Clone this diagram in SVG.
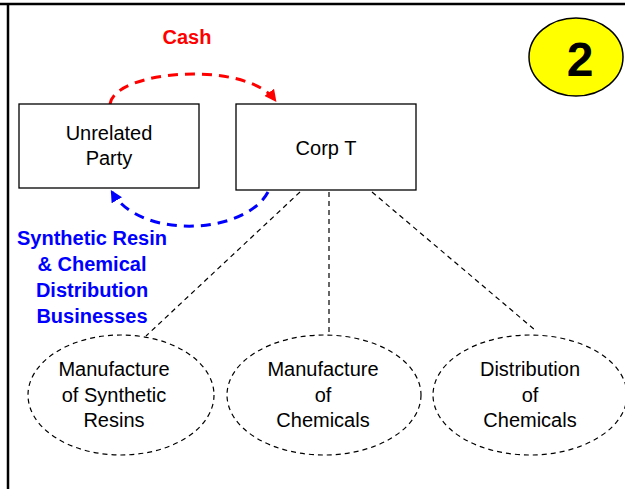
<svg xmlns="http://www.w3.org/2000/svg" width="625" height="489" viewBox="0 0 625 489">
<defs>
<style>
.box{fill:#fff;stroke:#000;stroke-width:1.3}
.t{font-family:"Liberation Sans",Arial,sans-serif;font-size:20px;fill:#000;text-anchor:middle}
.b{font-family:"Liberation Sans",Arial,sans-serif;font-size:20px;font-weight:bold;text-anchor:middle}
.ell{fill:none;stroke:#000;stroke-width:1.2;stroke-dasharray:5,4}
.link{fill:none;stroke:#000;stroke-width:1.2;stroke-dasharray:5,4}
</style>
<marker id="ar" viewBox="0 0 10 10" refX="8" refY="5" markerWidth="4" markerHeight="4" orient="auto"><path d="M0,0 L10,5 L0,10 z" fill="#f00"/></marker>
<marker id="ab" viewBox="0 0 10 10" refX="8" refY="5" markerWidth="4" markerHeight="4" orient="auto"><path d="M0,0 L10,5 L0,10 z" fill="#00f"/></marker>
</defs>
<rect width="625" height="489" fill="#fff"/>
<line x1="0" y1="4" x2="625" y2="4" stroke="#000" stroke-width="2.5"/>
<line x1="8" y1="4" x2="8" y2="489" stroke="#000" stroke-width="2.5"/>
<g id="badge">
<ellipse cx="576" cy="57" rx="47" ry="39" fill="#ff0" stroke="#000" stroke-width="1.5"/>
<text x="580" y="76" style="font-family:'Liberation Sans',Arial,sans-serif;font-size:48px;font-weight:bold;text-anchor:middle">2</text>
</g>
<g id="connectors">
<path d="M110,104 C115,70 245,60 275,100" fill="none" stroke="#f00" stroke-width="3" stroke-dasharray="10,7" marker-end="url(#ar)"/>
<path d="M268,192 C245,235 140,240 112,192" fill="none" stroke="#00f" stroke-width="3" stroke-dasharray="10,7" marker-end="url(#ab)"/>
<line class="link" x1="300" y1="192" x2="146" y2="336"/>
<line class="link" x1="329" y1="192" x2="329" y2="332"/>
<line class="link" x1="372" y1="192" x2="535" y2="330"/>
</g>
<text class="b" x="187" y="44" fill="#f00">Cash</text>
<g fill="#00f">
<text class="b" x="92" y="245" fill="#00f">Synthetic Resin</text>
<text class="b" x="92" y="271" fill="#00f">&amp; Chemical</text>
<text class="b" x="92" y="297" fill="#00f">Distribution</text>
<text class="b" x="92" y="323" fill="#00f">Businesses</text>
</g>
<g id="unrelated">
<rect class="box" x="19" y="104" width="180" height="84"/>
<text class="t" x="109" y="140">Unrelated</text>
<text class="t" x="109" y="165">Party</text>
</g>
<g id="corpT">
<rect class="box" x="236" y="104" width="180" height="86"/>
<text class="t" x="326" y="155">Corp T</text>
</g>
<g id="resins">
<ellipse class="ell" cx="121" cy="395" rx="93" ry="60"/>
<text class="t" x="114" y="376">Manufacture</text>
<text class="t" x="114" y="402">of Synthetic</text>
<text class="t" x="114" y="427">Resins</text>
</g>
<g id="chemicals">
<ellipse class="ell" cx="324" cy="395" rx="97" ry="60"/>
<text class="t" x="323" y="376">Manufacture</text>
<text class="t" x="323" y="402">of</text>
<text class="t" x="323" y="427">Chemicals</text>
</g>
<g id="distribution">
<ellipse class="ell" cx="530" cy="395" rx="97" ry="60"/>
<text class="t" x="530" y="376">Distribution</text>
<text class="t" x="530" y="402">of</text>
<text class="t" x="530" y="427">Chemicals</text>
</g>
</svg>
